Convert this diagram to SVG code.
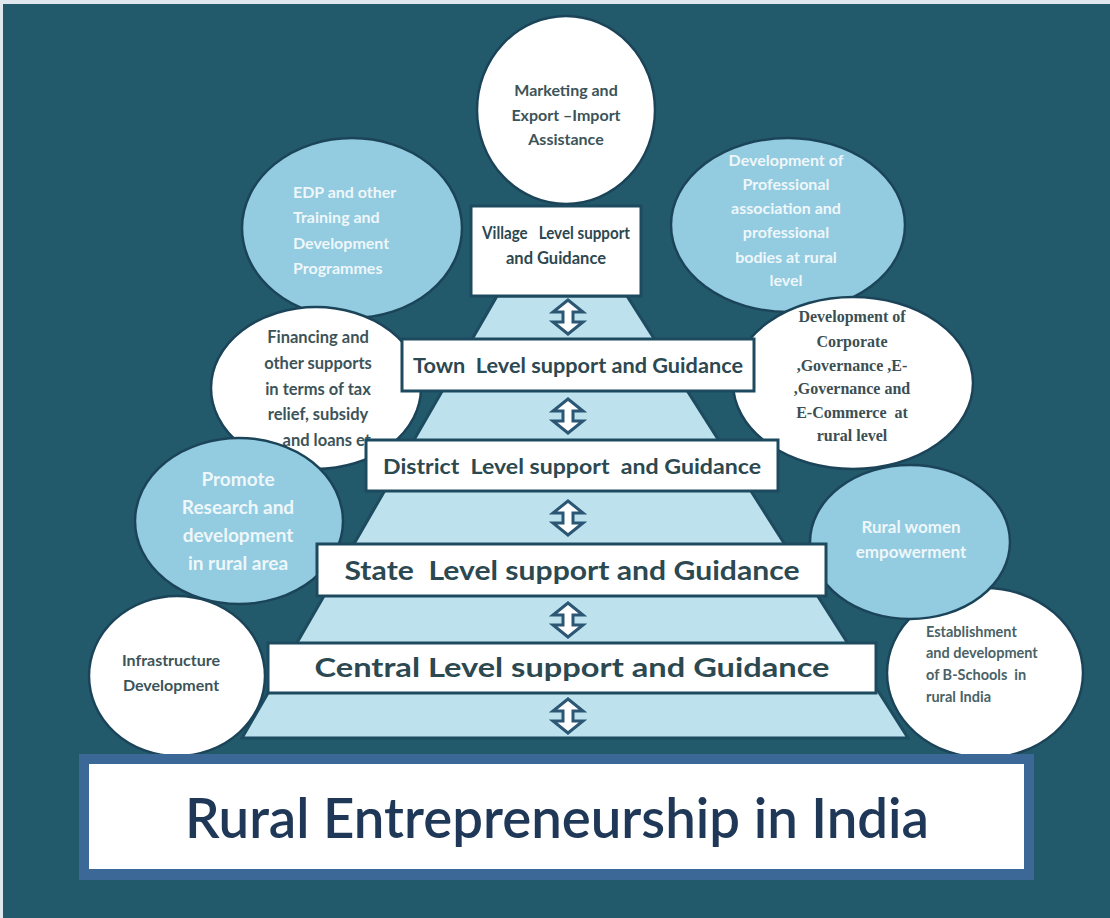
<svg xmlns="http://www.w3.org/2000/svg" xmlns:xlink="http://www.w3.org/1999/xlink" width="1110" height="918" viewBox="0 0 1110 918">
<defs>
<style>
text{white-space:pre}
.bg{fill:#235a6b}
.cw{fill:#ffffff;stroke:#1b4459;stroke-width:2.5}
.cb{fill:#93cbe0;stroke:#1b4459;stroke-width:2.5}
.box{fill:#ffffff;stroke:#1d4a5e;stroke-width:3}
.ct{font-family:Lato,"Liberation Sans",sans-serif;font-weight:bold;font-size:16px;text-anchor:middle}
.wt{fill:#eef7fa}
.dt{fill:#3c5459}
.st{font-family:"Liberation Serif",serif;font-weight:bold;font-size:16px;text-anchor:middle;fill:#3c4f54}
.lt{font-family:Lato,"Liberation Sans",sans-serif;font-weight:bold;fill:#2c4850;text-anchor:middle}
.arr{fill:#ffffff;stroke:#2b5674;stroke-width:3;stroke-linejoin:miter}
</style>
<path id="dbl" d="M0,0 L15,12 L5,12 L5,22 L15,22 L0,34 L-15,22 L-5,22 L-5,12 L-15,12 Z"/>
</defs>
<rect x="0" y="0" width="1110" height="918" fill="#dfe8ee"/>
<rect class="bg" x="3" y="4" width="1107" height="914"/>

<g id="pyramid">
<polygon points="497,296 627,296 908,738 242,738" fill="#bde2ed" stroke="#1d4b5f" stroke-width="3"/>
</g>

<g id="marketing">
<ellipse class="cw" cx="566" cy="110" rx="89" ry="94"/>
<text class="ct dt"><tspan x="566" y="96">Marketing and</tspan><tspan x="566" y="121">Export –Import</tspan><tspan x="566" y="145">Assistance</tspan></text>
</g>
<g id="edp">
<ellipse class="cb" cx="352" cy="228" rx="110" ry="90"/>
<text class="ct wt" style="text-anchor:start"><tspan x="293" y="198">EDP and other</tspan><tspan x="293" y="223">Training and</tspan><tspan x="293" y="249">Development</tspan><tspan x="293" y="274">Programmes</tspan></text>
</g>
<g id="professional">
<ellipse class="cb" cx="788" cy="225" rx="117" ry="87"/>
<text class="ct wt"><tspan x="786" y="166">Development of</tspan><tspan x="786" y="190">Professional</tspan><tspan x="786" y="214">association and</tspan><tspan x="786" y="238">professional</tspan><tspan x="786" y="263">bodies at rural</tspan><tspan x="786" y="286">level</tspan></text>
</g>
<g id="financing">
<ellipse class="cw" cx="316" cy="388" rx="105" ry="81"/>
<text class="ct dt" style="font-size:16.5px"><tspan x="318" y="343">Financing and</tspan><tspan x="318" y="369">other supports</tspan><tspan x="318" y="395">in terms of tax</tspan><tspan x="318" y="420">relief, subsidy</tspan><tspan x="371" y="446" style="text-anchor:end">and loans et</tspan></text>
</g>
<g id="corporate">
<ellipse class="cw" cx="853" cy="383" rx="120" ry="86"/>
<text class="st"><tspan x="852" y="322">Development of</tspan><tspan x="852" y="347">Corporate</tspan><tspan x="852" y="371">,Governance ,E-</tspan><tspan x="852" y="394">,Governance and</tspan><tspan x="852" y="418">E-Commerce  at</tspan><tspan x="852" y="441">rural level</tspan></text>
</g>
<g id="infrastructure">
<ellipse class="cw" cx="177" cy="676" rx="88" ry="80"/>
<text class="ct dt"><tspan x="171" y="666">Infrastructure</tspan><tspan x="171" y="691">Development</tspan></text>
</g>
<g id="promote">
<ellipse class="cb" cx="239" cy="521" rx="104" ry="83"/>
<text class="ct wt" style="font-size:19px"><tspan x="238" y="486">Promote</tspan><tspan x="238" y="514">Research and</tspan><tspan x="238" y="542">development</tspan><tspan x="238" y="570">in rural area</tspan></text>
</g>
<g id="bschools">
<ellipse class="cw" cx="985" cy="673" rx="98" ry="85"/>
<text class="ct dt" style="font-size:14.5px;text-anchor:start;fill:#4a6266"><tspan x="926" y="637">Establishment</tspan><tspan x="926" y="658">and development</tspan><tspan x="926" y="680">of B-Schools  in</tspan><tspan x="926" y="702">rural India</tspan></text>
</g>
<g id="women">
<ellipse class="cb" cx="910" cy="542" rx="100" ry="77"/>
<text class="ct wt" style="font-size:17px"><tspan x="911" y="533">Rural women</tspan><tspan x="911" y="558">empowerment</tspan></text>
</g>

<g id="village">
<rect class="box" x="471" y="206" width="170" height="90"/>
<text class="lt" style="font-size:16.5px"><tspan x="556" y="239" textLength="148" lengthAdjust="spacingAndGlyphs">Village   Level support</tspan><tspan x="556" y="264">and Guidance</tspan></text>
</g>
<g id="town">
<rect class="box" x="402" y="339" width="352" height="52"/>
<text class="lt" x="578" y="373" style="font-size:21px" textLength="330" lengthAdjust="spacingAndGlyphs">Town  Level support and Guidance</text>
</g>
<g id="district">
<rect class="box" x="366" y="440" width="412" height="51"/>
<text class="lt" x="572" y="474" style="font-size:21px" textLength="378" lengthAdjust="spacingAndGlyphs">District  Level support  and Guidance</text>
</g>
<g id="state">
<rect class="box" x="317" y="544" width="509" height="52"/>
<text class="lt" x="572" y="580" style="font-size:26px" textLength="455" lengthAdjust="spacingAndGlyphs">State  Level support and Guidance</text>
</g>
<g id="central">
<rect class="box" x="268" y="643" width="608" height="50"/>
<text class="lt" x="572" y="677" style="font-size:27px" textLength="515" lengthAdjust="spacingAndGlyphs">Central Level support and Guidance</text>
</g>

<g id="connectors">
<use xlink:href="#dbl" class="arr" x="568" y="300"/>
<use xlink:href="#dbl" class="arr" x="568" y="399"/>
<use xlink:href="#dbl" class="arr" x="568" y="501"/>
<use xlink:href="#dbl" class="arr" x="568" y="603"/>
<use xlink:href="#dbl" class="arr" x="568" y="699"/>
</g>

<g id="title">
<rect x="79" y="754" width="955" height="126" fill="#3b6896"/>
<rect x="89" y="764" width="935" height="105" fill="#ffffff"/>
<text x="185" y="838" font-family="Lato, 'Liberation Sans', sans-serif" font-weight="600" font-size="56" fill="#1f3857" textLength="744" lengthAdjust="spacingAndGlyphs">Rural Entrepreneurship in India</text>
</g>
</svg>
